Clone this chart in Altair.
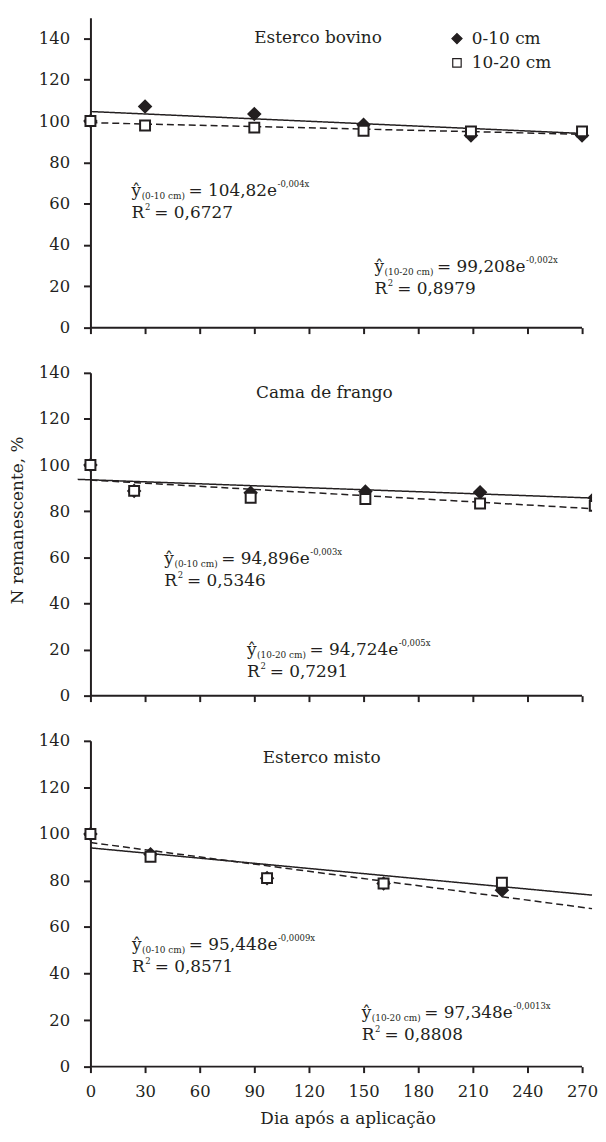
import altair as alt
import pandas as pd

FONT = "DejaVu Serif"
INK = "#231f20"

depths = ["0-10 cm", "10-20 cm"]
x_ticks = [0, 30, 60, 90, 120, 150, 180, 210, 240, 270]
y_ticks = [0, 20, 40, 60, 80, 100, 120, 140]
x_title = "Dia após a aplicação"
y_title = "N remanescente, %"

# ---------------- Esterco bovino ----------------
bov_title = "Esterco bovino"
bov_days = [0, 30, 90, 150, 209, 270]
bov_0_10 = [100.0, 107.0, 103.4, 98.2, 93.0, 93.0]
bov_10_20 = [100.0, 97.8, 96.8, 95.3, 95.0, 95.0]
bov_t010_days = [0, 270]
bov_t010_vals = [104.6, 94.0]
bov_t1020_days = [0, 270]
bov_t1020_vals = [99.2, 93.6]
bov_eqs = [("(0-10 cm)", "= 104,82e", "-0,004x", "= 0,6727"),
           ("(10-20 cm)", "= 99,208e", "-0,002x", "= 0,8979")]

# ---------------- Cama de frango ----------------
cama_title = "Cama de frango"
cama_days = [0, 24, 88, 151, 214, 277]
cama_0_10 = [100.0, 88.8, 88.0, 88.5, 88.2, 85.8]
cama_10_20 = [100.0, 88.8, 85.8, 85.3, 83.3, 82.3]
cama_t010_days = [-7, 275.5]
cama_t010_vals = [93.8, 85.7]
cama_t1020_days = [0, 275.5]
cama_t1020_vals = [93.5, 81.1]
cama_eqs = [("(0-10 cm)", "= 94,896e", "-0,003x", "= 0,5346"),
            ("(10-20 cm)", "= 94,724e", "-0,005x", "= 0,7291")]

# ---------------- Esterco misto ----------------
misto_title = "Esterco misto"
misto_days = [0, 33, 97, 161, 226]
misto_0_10 = [100.0, 91.3, 81.0, 78.7, 75.8]
misto_10_20 = [100.0, 90.2, 81.0, 78.7, 79.0]
misto_t010_days = [0, 275.5]
misto_t010_vals = [94.0, 73.7]
misto_t1020_days = [0, 275.5]
misto_t1020_vals = [96.3, 67.9]
misto_eqs = [("(0-10 cm)", "= 95,448e", "-0,0009x", "= 0,8571"),
             ("(10-20 cm)", "= 97,348e", "-0,0013x", "= 0,8808")]

# ---------------- layout / style ----------------
PLOT_W = 505
X_MAX = 275.5
MAIN = 17
SUB = 9
SUP = 8.5
LINE_GAP = 22
TICK_FS = 16.5
SHAPES = ["diamond", "square"]
FILLS = [INK, "white"]
SIZES = [140, 100]
LEG_SIZES = [105, 72]

GW = {"0": .636, "1": .636, "2": .636, "3": .636, "4": .636, "5": .636,
      "6": .636, "7": .636, "8": .636, "9": .636, " ": .318, "=": .838,
      ",": .318, "-": .338, "(": .390, ")": .390, "c": .560, "m": .948,
      "e": .592, "x": .564, "ŷ": .565, "R": .734}


def tw(s, size):
    return size * sum(GW.get(c, 0.6) for c in s)


def eq_pieces(eq, x0, y0, ppd, ppu):
    sub, coef, expo, r2 = eq
    rows = []

    def add(text, dx, dy, size):
        rows.append({"day": x0 + dx / ppd, "value": y0 - dy / ppu,
                     "text": text, "fs": size})
    add("ŷ", 0, 0, MAIN)
    d_sub = tw("ŷ", MAIN) + 0.5
    add(sub, d_sub, 3, SUB)
    d_main = d_sub + tw(sub, SUB) + 3.5
    add(coef, d_main, 0, MAIN)
    add(expo, d_main + tw(coef, MAIN) + 0.5, -9, SUP)
    add("R", 0, LINE_GAP, MAIN)
    d2 = tw("R", MAIN) + 1
    add("2", d2, LINE_GAP - 8, SUP)
    add(r2, d2 + tw("2", SUP) + 4, LINE_GAP, MAIN)
    return rows


def panel(name, name_at, days, v1, v2, t1x, t1y, t2x, t2y, eqs, eq_at,
          ymax, height, first=False, middle=False, last=False):
    ppd = PLOT_W / X_MAX
    ppu = height / ymax
    n = len(days)
    pts = pd.DataFrame({"day": days + days, "value": v1 + v2,
                        "depth": [depths[0]] * n + [depths[1]] * n})
    trend = pd.DataFrame({"day": t1x + t2x, "value": t1y + t2y,
                          "depth": [depths[0]] * len(t1x) + [depths[1]] * len(t2x)})
    axis_line = pd.DataFrame({"day": [min(x_ticks)], "day2": [max(x_ticks)],
                              "value": [min(y_ticks)]})
    rows = []
    for eq, (ex, ey) in zip(eqs, eq_at):
        rows += eq_pieces(eq, ex, ey, ppd, ppu)
    eqdf = pd.DataFrame(rows)
    namedf = pd.DataFrame({"day": [name_at[0]], "value": [name_at[1]], "text": [name]})

    xs = alt.Scale(domain=[0, X_MAX], nice=False, zero=False)
    ys = alt.Scale(domain=[0, ymax], nice=False)
    xkw = dict(values=x_ticks, domain=False, ticks=True, tickSize=6, tickWidth=2,
               tickColor=INK, labels=last, labelFont=FONT, labelFontSize=TICK_FS,
               labelColor=INK, labelPadding=11, labelFlush=False, labelOverlap=False,
               format="d", grid=False, titleFont=FONT, titleFontSize=MAIN,
               titleFontWeight="normal", titleColor=INK, titlePadding=10.5,
               titleX=259)
    ykw = dict(values=y_ticks, domain=True, domainWidth=2, domainColor=INK,
               ticks=True, tickSize=7, tickWidth=2, tickColor=INK,
               labelFont=FONT, labelFontSize=TICK_FS, labelColor=INK,
               labelPadding=14, labelFlush=False, labelOverlap=False, format="d",
               grid=False, titleFont=FONT, titleFontSize=MAIN,
               titleFontWeight="normal", titleColor=INK, titlePadding=11.5)
    if middle:
        ykw["titleY"] = 148
    X = alt.X("day:Q", scale=xs, axis=alt.Axis(**xkw),
              title=(x_title if last else None))
    Y = alt.Y("value:Q", scale=ys, axis=alt.Axis(**ykw),
              title=(y_title if middle else " "))

    base_rule = alt.Chart(axis_line).mark_rule(color=INK, strokeWidth=2).encode(
        x=X, x2="day2:Q", y=Y)
    lines = alt.Chart(trend).mark_line(color=INK, strokeWidth=1.5, clip=False).encode(
        x=X, y=Y, detail="depth:N",
        strokeDash=alt.StrokeDash("depth:N", scale=alt.Scale(domain=depths, range=[[1, 0], [7, 4]]),
                                  legend=None))

    def point_layer(clip):
        return alt.Chart(pts).mark_point(filled=True, stroke=INK, strokeWidth=2,
                                         opacity=1, clip=clip).encode(
            x=X, y=Y,
            shape=alt.Shape("depth:N", scale=alt.Scale(domain=depths, range=SHAPES), legend=None),
            fill=alt.Fill("depth:N", scale=alt.Scale(domain=depths, range=FILLS), legend=None),
            size=alt.Size("depth:O", scale=alt.Scale(domain=depths, range=SIZES), legend=None))
    pts_in = point_layer(False).transform_filter(alt.datum.day <= max(x_ticks))
    pts_edge = point_layer(True).transform_filter(alt.datum.day > max(x_ticks))
    layers = [base_rule, lines, pts_in, pts_edge]
    for fs in (MAIN, SUB, SUP):
        sub_df = eqdf[eqdf["fs"] == fs]
        layers.append(alt.Chart(sub_df).mark_text(
            align="left", baseline="alphabetic", color=INK, font=FONT,
            fontSize=fs, clip=False).encode(x=X, y=Y, text="text:N"))
    layers.append(alt.Chart(namedf).mark_text(
        align="center", baseline="middle", color=INK, font=FONT, fontSize=MAIN).encode(
        x=X, y=Y, text="text:N"))
    if first:
        # legend (top right of the first panel)
        leg_rows = [21, 45.5]
        for i, d in enumerate(depths):
            ld = pd.DataFrame({"depth": [d]})
            layers.append(alt.Chart(ld).mark_point(
                filled=True, opacity=1, stroke=INK, strokeWidth=1.2, shape=SHAPES[i],
                fill=FILLS[i], size=LEG_SIZES[i]).encode(
                x=alt.value(369), y=alt.value(leg_rows[i])))
            layers.append(alt.Chart(ld).mark_text(
                align="left", baseline="middle", color=INK, font=FONT, fontSize=MAIN).encode(
                x=alt.value(384), y=alt.value(leg_rows[i]), text="depth:N"))
    return alt.layer(*layers).properties(width=PLOT_W, height=height)


p1 = panel(bov_title, (125, 140.4), bov_days, bov_0_10, bov_10_20,
           bov_t010_days, bov_t010_vals, bov_t1020_days, bov_t1020_vals,
           bov_eqs, [(22.6, 63.8), (156, 26.9)], 150, 312, first=True)
p2 = panel(cama_title, (128.5, 131.4), cama_days, cama_0_10, cama_10_20,
           cama_t010_days, cama_t010_vals, cama_t1020_days, cama_t1020_vals,
           cama_eqs, [(40.6, 57.1), (86, 17.7)], 140, 325, middle=True)
p3 = panel(misto_title, (127, 132.8), misto_days, misto_0_10, misto_10_20,
           misto_t010_days, misto_t010_vals, misto_t1020_days, misto_t1020_vals,
           misto_eqs, [(22.8, 50.0), (149, 20.8)], 140, 328, last=True)

chart = alt.vconcat(p1, p2, p3, spacing=28.5).resolve_scale(
    x="independent", y="independent"
).properties(
    padding={"left": 1, "top": 6, "right": 0, "bottom": 0}
).configure(font=FONT).configure_view(stroke=None)

chart.save("out.html", embed_options={"renderer": "svg", "actions": False})
